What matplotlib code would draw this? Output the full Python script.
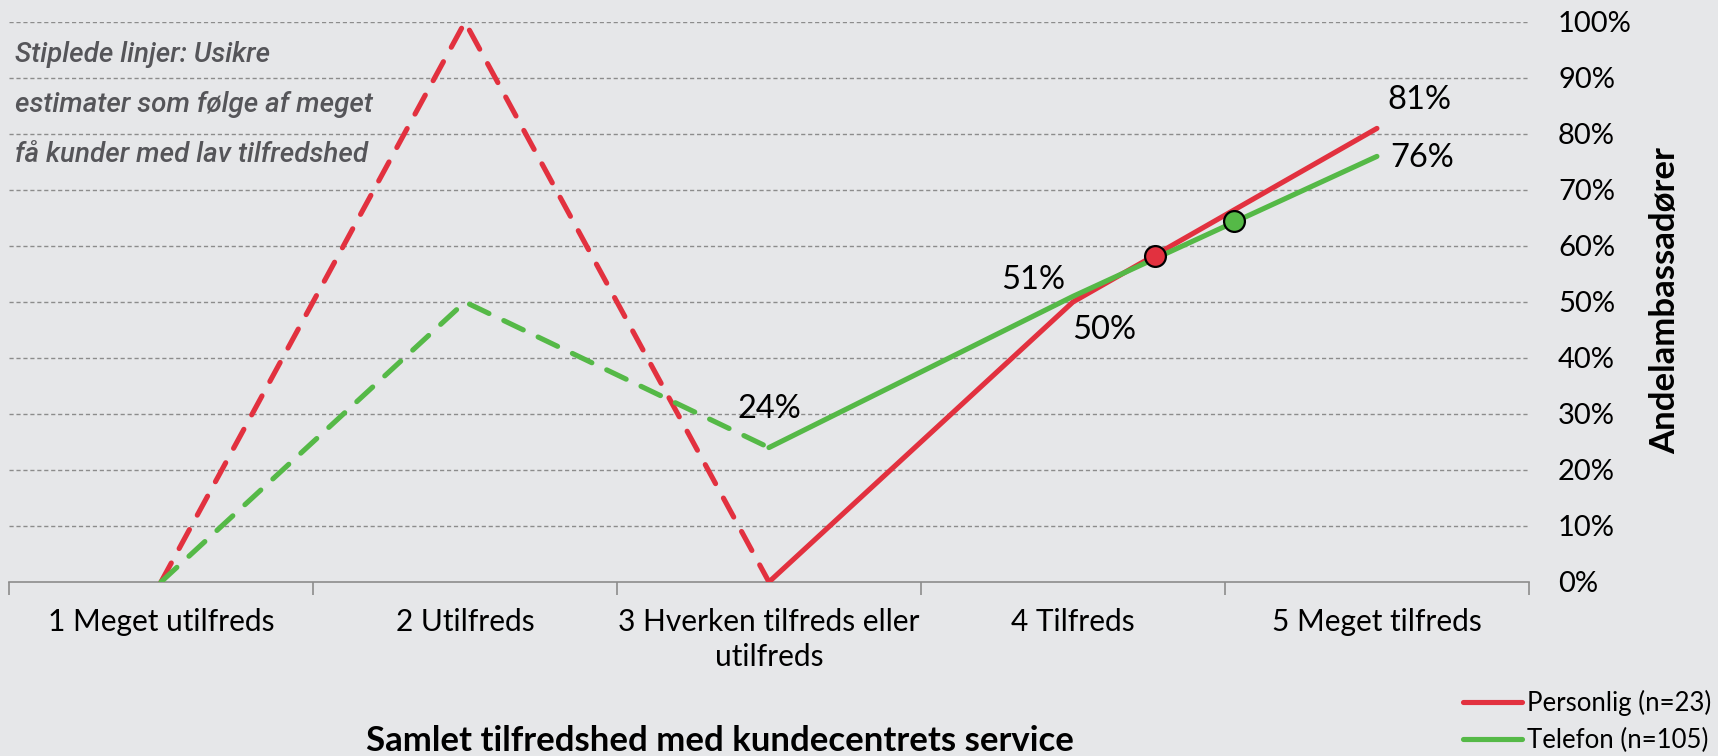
import numpy as np
import matplotlib
matplotlib.use("Agg")
import matplotlib.pyplot as plt
from matplotlib.lines import Line2D

plt.rcParams['font.family'] = ['Lato', 'DejaVu Sans']

# data
categories = ["1 Meget utilfreds", "2 Utilfreds", "3 Hverken tilfreds eller\nutilfreds",
              "4 Tilfreds", "5 Meget tilfreds"]
personlig = [0, 100, 0, 50, 81]
telefon = [0, 50, 24, 51, 76]
# average satisfaction score / share of ambassadors
avg_score = {"personlig": 4.27, "telefon": 4.53}
avg_share = {"personlig": 58.2, "telefon": 64.5}
ytick_vals = [0, 10, 20, 30, 40, 50, 60, 70, 80, 90, 100]

bg = '#e6e7e9'
red = '#e2313f'
green = '#55b947'

fig = plt.figure(figsize=(17.18, 7.56), dpi=100, facecolor=bg)
ax = fig.add_axes([0.00524, 0.2302, 0.8847, 0.7407])
ax.set_facecolor(bg)

x = np.arange(1, 6)
lw = 3.7
dash = (4.2, 3.2)

# uncertain (dashed) part: categories 1-3, certain (solid): 3-5
ax.plot(x[:3], personlig[:3], color=red, lw=lw, dashes=dash, dash_capstyle='round', zorder=3)
ax.plot(x[:3], telefon[:3], color=green, lw=lw, dashes=dash, dash_capstyle='round', zorder=3)
ax.plot(x[2:], personlig[2:], color=red, lw=lw, solid_capstyle='round', zorder=3)
ax.plot(x[2:], telefon[2:], color=green, lw=lw, solid_capstyle='round', zorder=4)

ax.plot(avg_score["personlig"], avg_share["personlig"], 'o', ms=15, mfc=red, mec='black', mew=1.6, zorder=5)
ax.plot(avg_score["telefon"], avg_share["telefon"], 'o', ms=15, mfc=green, mec='black', mew=1.6, zorder=5)

# data labels
lab_kw = dict(textcoords='offset pixels', ha='center', va='center', fontsize=23.5, color='black', zorder=6)
ax.annotate("%d%%" % personlig[4], (5, personlig[4]), xytext=(42, 28), **lab_kw)
ax.annotate("%d%%" % telefon[4], (5, telefon[4]), xytext=(45, -2), **lab_kw)
ax.annotate("%d%%" % telefon[3], (4, telefon[3]), xytext=(-40, 16), **lab_kw)
ax.annotate("%d%%" % personlig[3], (4, personlig[3]), xytext=(31, -28), **lab_kw)
ax.annotate("%d%%" % telefon[2], (3, telefon[2]), xytext=(0, 39), **lab_kw)

ax.set_xlim(0.5, 5.5)
ax.set_ylim(0, 100)

for v in ytick_vals[1:]:
    ax.axhline(v, color='#8c8c8c', lw=1.0, ls=(0, (3, 2)), zorder=1)

ax.yaxis.tick_right()
ax.set_yticks(ytick_vals)
ax.set_yticklabels(["%d%%" % v for v in ytick_vals], fontsize=21)
ax.tick_params(axis='y', length=0, pad=21)
fig.text(1665 / 1718, 1 - 301 / 756, "Andelambassadører", rotation=90, ha='center', va='center',
         fontsize=25, fontweight='bold')

ax.set_xticks(x)
ax.set_xticklabels(categories, fontsize=21.5, linespacing=1.3)
ax.set_xticks(np.arange(0.5, 6, 1), minor=True)
ax.tick_params(axis='x', which='major', length=0, pad=19)
ax.tick_params(axis='x', which='minor', length=9, width=1.2, color='#8c8c8c', direction='out')

for s in ['top', 'left', 'right']:
    ax.spines[s].set_visible(False)
ax.spines['bottom'].set_color('#8c8c8c')
ax.spines['bottom'].set_linewidth(1.2)

fig.text(720 / 1718, 1 - 741 / 756, "Samlet tilfredshed med kundecentrets service", ha='center', va='center',
         fontsize=25, fontweight='bold')

note = ["Stiplede linjer: Usikre", "estimater som følge af meget", "få kunder med lav tilfredshed"]
for i, t in enumerate(note):
    fig.text(15 / 1718, 1 - (55 + 50 * i) / 756, t, ha='left', va='center', fontsize=20,
             style='italic', fontweight='medium', color='#555559', family=['Roboto', 'DejaVu Sans'])

handles = [Line2D([], [], color=red, lw=lw, solid_capstyle='round'),
           Line2D([], [], color=green, lw=lw, solid_capstyle='round')]
fig.legend(handles, ["Personlig (n=23)", "Telefon (n=105)"], loc='lower right',
           bbox_to_anchor=(0.996, 0.004), frameon=False, fontsize=18.5, handlelength=2.3,
           handletextpad=0.2, labelspacing=0.45, borderaxespad=0.0, borderpad=0.0)

fig.savefig("out.png", dpi=100, facecolor=bg)
